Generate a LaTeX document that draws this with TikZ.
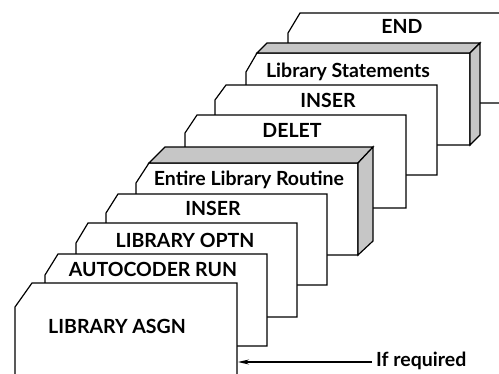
\documentclass[tikz,border=0pt]{standalone}
\usepackage{fontspec}
\setmainfont{Lato}
\usetikzlibrary{arrows.meta,positioning}

\begin{document}
\begin{tikzpicture}[x=1pt,y=-1pt,
    card/.style={draw=black,fill=white,line width=1.2pt,line join=miter},
    edge/.style={draw=black,fill=gray!45,line width=1.2pt},
    lbl/.style={anchor=base,inner sep=0pt,font=\fontsize{19.5}{19.5}\selectfont\bfseries}]
\useasboundingbox (0,0) rectangle (499,373);

% the cards, back to front
\draw[card] (288,103) -- (288,33) -- (300,13) -- (512,13) -- (512,103) -- cycle;
\node[lbl] (endc) at (402,33) {END};

\draw[card] (246,145) -- (246,72) -- (257,53) -- (470,53) -- (470,145) -- cycle;
\draw[edge] (257,53) -- (267,43) -- (480,43) -- (470,53) -- cycle;
\draw[edge] (470,53) -- (480,43) -- (480,135) -- (470,145) -- cycle;
\node[lbl] (stmts) at (348,77) {Library Statements};

\draw[card] (215,175) -- (215,100) -- (226,85) -- (437,85) -- (437,175) -- cycle;
\node[lbl] (inserb) at (328,107) {INSER};

\draw[card] (185,208) -- (185,133) -- (197,115) -- (406,115) -- (406,208) -- cycle;
\node[lbl] (delet) at (292,137) {DELET};

\draw[card] (136,255) -- (136,183) -- (149,163) -- (358,163) -- (358,255) -- cycle;
\draw[edge] (149,163) -- (165,147) -- (373,147) -- (358,163) -- cycle;
\draw[edge] (358,163) -- (373,147) -- (373,241) -- (358,255) -- cycle;
\node[lbl] (entire) at (249,185) {Entire Library Routine};

\draw[card] (106,285) -- (106,213) -- (118,194) -- (327,194) -- (327,285) -- cycle;
\node[lbl] (insera) at (213,215) {INSER};

\draw[card] (76,317) -- (76,243) -- (88,223) -- (297,223) -- (297,317) -- cycle;
\node[lbl] (optn) at (185,247) {LIBRARY OPTN};

\draw[card] (45,346) -- (45,275) -- (58,254) -- (267,254) -- (267,346) -- cycle;
\node[lbl] (run) at (153,276) {AUTOCODER RUN};

\draw[card] (15,380) -- (15,307) -- (32,283) -- (237,283) -- (237,380) -- cycle;
\node[lbl] (asgn) at (117,333) {LIBRARY ASGN};

% the note
\coordinate (hit) at (238,362);
\node[lbl,anchor=base west] (req) at (376,366) {If required};
\draw[line width=1.2pt,-{Stealth[length=11pt,width=5pt]}] (req.west |- hit) ++(-4,0) -- (hit);

\end{tikzpicture}
\end{document}
